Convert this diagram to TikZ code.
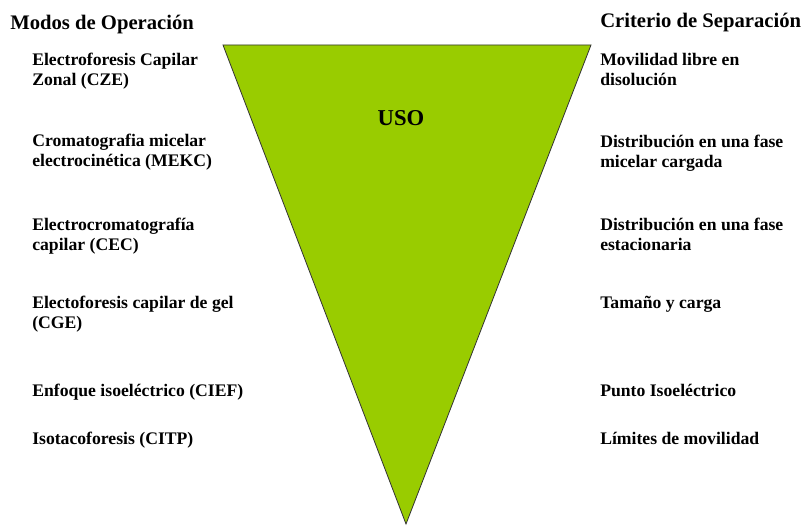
\documentclass[tikz,border=0pt]{standalone}
\usepackage{fontspec}
\setmainfont{Liberation Serif}
\definecolor{uso}{HTML}{99CC00}
\begin{document}
\begin{tikzpicture}[x=0.75pt,y=-0.75pt,
    head/.style={anchor=base west,inner sep=0pt,font=\fontsize{15.5}{18}\selectfont\bfseries},
    item/.style={anchor=base west,inner sep=0pt,align=left,font=\fontsize{13.25}{15}\selectfont\bfseries}]
      \useasboundingbox (0,0) rectangle (804,527);
      \coordinate (tl) at (223,45);
      \coordinate (tr) at (591,45);
      \coordinate (tip) at (406,524);
      \draw[fill=uso,draw=black!80,line width=0.6pt] (tl) -- (tr) -- (tip) -- cycle;
      \node[anchor=base,inner sep=0pt,font=\fontsize{17}{20}\selectfont\bfseries] (uso) at (401,126) {USO};
      % base of a two-line item is its last line
      \draw
        (10,30) node[head] (modos){Modos de Operación}
        (32,86) node[item] (m1){Electroforesis Capilar\\Zonal (CZE)}
        (32,167) node[item] (m2){Cromatografia micelar\\electrocinética (MEKC)}
        (32,251) node[item] (m3){Electrocromatografía\\capilar (CEC)}
        (32,329) node[item] (m4){Electoforesis capilar de gel\\(CGE)}
        (32,397) node[item] (m5){Enfoque isoeléctrico (CIEF)}
        (32,445) node[item] (m6){Isotacoforesis (CITP)};
      \draw
        (600,28) node[head] (criterio){Criterio de Separación}
        (600,86) node[item] (c1){Movilidad libre en\\disolución}
        (600,168) node[item] (c2){Distribución en una fase\\micelar cargada}
        (600,251) node[item] (c3){Distribución en una fase\\estacionaria}
        (600,309) node[item] (c4){Tamaño y carga}
        (600,397) node[item] (c5){Punto Isoeléctrico}
        (600,445) node[item] (c6){Límites de movilidad};
    \end{tikzpicture}
\end{document}
